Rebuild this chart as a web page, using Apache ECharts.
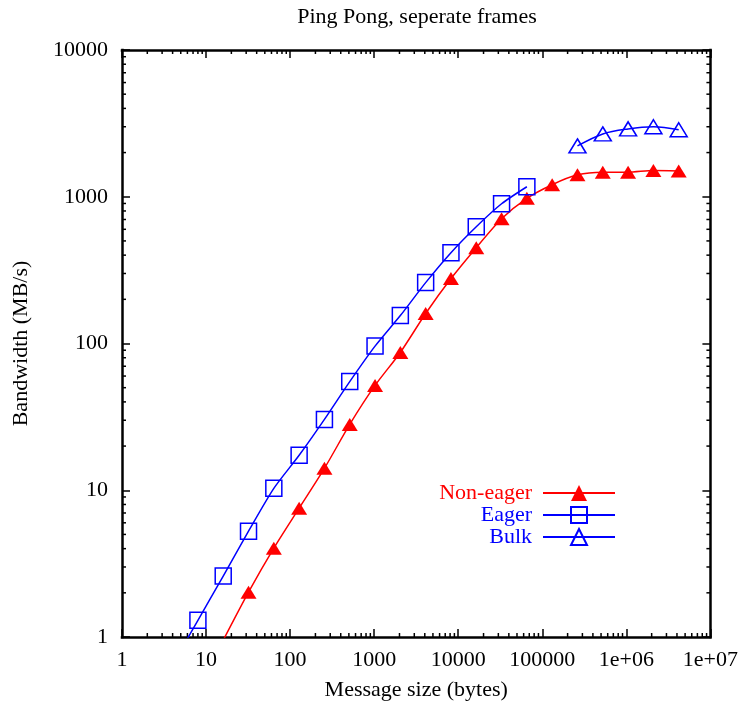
<!DOCTYPE html>
<html>
<head>
    <meta charset="utf-8">
    <title>Ping Pong</title>
    <script src="https://cdn.jsdelivr.net/npm/echarts@6/dist/echarts.min.js"></script>
    <style>
        html, body { margin: 0; padding: 0; background: #fff; }
        #main { width: 741px; height: 709px; }
    </style>
</head>
<body>
<div id="main"></div>
<script type="text/javascript">
    // message sizes (bytes) and bandwidth (MB/s)
    var nonEagerSizes = [16, 32, 64, 128, 256, 512, 1024, 2048, 4096, 8192, 16384, 32768, 65536,
        131072, 262144, 524288, 1048576, 2097152, 4194304];
    var nonEagerBw = [0.95, 2.02, 4.03, 7.55, 14.1, 28.1, 51.8, 86.9, 160, 277, 450, 708, 975,
        1208, 1410, 1470, 1470, 1510, 1500];

    var eagerSizes = [4, 8, 16, 32, 64, 128, 256, 512, 1024, 2048, 4096, 8192, 16384, 32768, 65536];
    var eagerBw = [0.65, 1.30, 2.60, 5.26, 10.3, 17.3, 30.4, 55, 96, 155, 260, 416, 625, 896, 1170];

    var bulkSizes = [262144, 524288, 1048576, 2097152, 4194304];
    var bulkBw = [2220, 2680, 2900, 3000, 2860];

    var xTickLabels = ['1', '10', '100', '1000', '10000', '100000', '1e+06', '1e+07'];
    var yTickLabels = ['1', '10', '100', '1000', '10000'];

    var FONT = 'Liberation Serif';
    var RED = '#ff0000';
    var BLUE = '#0000ff';

    function pairs(xs, ys) {
        return xs.map(function (x, i) { return [x, ys[i]]; });
    }

    // minor tick positions 2..9 inside every decade
    var xMinor = [], yMinor = [];
    for (var d = 1; d < 1e7; d *= 10) {
        for (var m = 2; m < 10; m++) xMinor.push([d * m, 1]);
    }
    for (var d2 = 1; d2 < 1e4; d2 *= 10) {
        for (var m2 = 2; m2 < 10; m2++) yMinor.push([1, d2 * m2]);
    }

    var axisLine = { show: true, onZero: false, lineStyle: { color: '#000', width: 2.5, cap: 'square' } };
    var axisTick = { show: true, inside: true, length: 8, lineStyle: { color: '#000', width: 1.5 } };

    var myChart = echarts.init(document.getElementById('main'));

    var option = {
        animation: false,
        backgroundColor: '#fff',
        textStyle: { fontFamily: FONT },
        title: {
            text: 'Ping Pong, seperate frames',
            left: 412,
            textAlign: 'center',
            top: 1,
            textStyle: { fontFamily: FONT, fontSize: 22, fontWeight: 'normal', color: '#000' }
        },
        grid: { left: 122, right: 29, top: 50, bottom: 72, containLabel: false },
        legend: {
            orient: 'vertical',
            align: 'right',
            right: 120,
            top: 477,
            itemWidth: 72,
            itemHeight: 20,
            itemGap: 0,
            textStyle: { fontFamily: FONT, fontSize: 22, lineHeight: 20, padding: [0, 6, 0, 0] },
            data: [
                { name: 'Non-eager', textStyle: { color: RED } },
                { name: 'Eager', textStyle: { color: BLUE } },
                { name: 'Bulk', textStyle: { color: BLUE } }
            ]
        },
        xAxis: [
            {
                type: 'log', logBase: 10, min: 1, max: 1e7, splitNumber: 7,
                position: 'bottom',
                name: 'Message size (bytes)', nameLocation: 'middle', nameGap: 42,
                nameTextStyle: { fontFamily: FONT, fontSize: 22, color: '#000' },
                axisLine: axisLine, axisTick: axisTick,
                splitLine: { show: false },
                axisLabel: {
                    margin: 12, fontFamily: FONT, fontSize: 22, color: '#000',
                    formatter: function (v) { return xTickLabels[Math.round(Math.log10(v))]; }
                }
            },
            {
                type: 'log', logBase: 10, min: 1, max: 1e7, splitNumber: 7,
                position: 'top',
                axisLine: axisLine, axisTick: axisTick,
                splitLine: { show: false },
                axisLabel: { show: false }
            }
        ],
        yAxis: [
            {
                type: 'log', logBase: 10, min: 1, max: 1e4, splitNumber: 4,
                position: 'left',
                name: 'Bandwidth (MB/s)', nameLocation: 'middle', nameGap: 90, nameRotate: 90,
                nameTextStyle: { fontFamily: FONT, fontSize: 22, color: '#000' },
                axisLine: axisLine, axisTick: axisTick,
                splitLine: { show: false },
                axisLabel: {
                    margin: 14, fontFamily: FONT, fontSize: 22, color: '#000',
                    formatter: function (v) { return yTickLabels[Math.round(Math.log10(v))]; }
                }
            },
            {
                type: 'log', logBase: 10, min: 1, max: 1e4, splitNumber: 4,
                position: 'right',
                axisLine: axisLine, axisTick: axisTick,
                splitLine: { show: false },
                axisLabel: { show: false }
            }
        ],
        series: [
            {
                name: 'Non-eager',
                type: 'line',
                data: pairs(nonEagerSizes, nonEagerBw),
                smooth: 0.25,
                clip: true,
                symbol: 'triangle',
                symbolSize: [16, 13],
                lineStyle: { color: RED, width: 1.5 },
                itemStyle: { color: RED },
                z: 3
            },
            {
                name: 'Eager',
                type: 'line',
                data: pairs(eagerSizes, eagerBw),
                smooth: 0.25,
                clip: true,
                symbol: 'rect',
                symbolSize: 16,
                lineStyle: { color: BLUE, width: 1.5 },
                itemStyle: { color: 'rgba(0,0,0,0)', borderColor: BLUE, borderWidth: 1.5 },
                z: 3
            },
            {
                name: 'Bulk',
                type: 'line',
                data: pairs(bulkSizes, bulkBw),
                smooth: 0.35,
                clip: true,
                symbol: 'triangle',
                symbolSize: [17, 14],
                lineStyle: { color: BLUE, width: 1.5 },
                itemStyle: { color: 'rgba(0,0,0,0)', borderColor: BLUE, borderWidth: 1.5 },
                z: 3
            },
            {
                // minor ticks on bottom and top
                type: 'custom',
                silent: true,
                data: xMinor,
                renderItem: function (params, api) {
                    var v = api.value(0);
                    var b = api.coord([v, 1]);
                    var t = api.coord([v, 1e4]);
                    var st = { stroke: '#000', lineWidth: 1.5 };
                    return {
                        type: 'group',
                        children: [
                            { type: 'line', shape: { x1: b[0], y1: b[1], x2: b[0], y2: b[1] - 4 }, style: st },
                            { type: 'line', shape: { x1: t[0], y1: t[1], x2: t[0], y2: t[1] + 4 }, style: st }
                        ]
                    };
                }
            },
            {
                // minor ticks on left and right
                type: 'custom',
                silent: true,
                data: yMinor,
                renderItem: function (params, api) {
                    var v = api.value(1);
                    var l = api.coord([1, v]);
                    var r = api.coord([1e7, v]);
                    var st = { stroke: '#000', lineWidth: 1.5 };
                    return {
                        type: 'group',
                        children: [
                            { type: 'line', shape: { x1: l[0], y1: l[1], x2: l[0] + 4, y2: l[1] }, style: st },
                            { type: 'line', shape: { x1: r[0], y1: r[1], x2: r[0] - 4, y2: r[1] }, style: st }
                        ]
                    };
                }
            }
        ]
    };
    myChart.setOption(option);
</script>
</body>
</html>
